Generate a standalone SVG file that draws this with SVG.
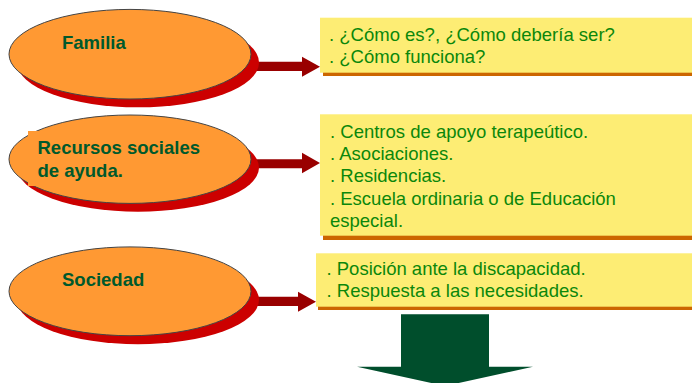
<svg xmlns="http://www.w3.org/2000/svg" width="692" height="383" viewBox="0 0 692 383">
<style>
.shadow{fill:#CC0000}
.ell{fill:#FF9933;stroke:#444;stroke-width:1}
.lbl{font-family:"Liberation Sans",Arial,sans-serif;font-size:18.5px;font-weight:bold;fill:#00592C}
.boxsh{fill:#CC6600}
.box{fill:#FDED74}
.txt{font-family:"Liberation Sans",Arial,sans-serif;font-size:18.5px;fill:#0B870B}
.arr{fill:#990000}
</style>
<rect width="692" height="383" fill="#ffffff"/>
<g id="connectors">
<polygon class="arr" points="250,61.7 302,61.7 302,56.7 320,66.7 302,76.7 302,71 250,71"/>
<polygon class="arr" points="250,159.3 302,159.3 302,152.7 320,163 302,173.3 302,168.3 250,168.3"/>
<polygon class="arr" points="250,296.7 298,296.7 298,291.7 316,301.7 298,311.7 298,306 250,306"/>
<polygon fill="#004E2C" points="401,314.3 489,314.3 489,366.7 533,366.7 445,386 357,366.7 401,366.7"/>
</g>
<g id="familia">
<ellipse class="shadow" cx="138" cy="62.5" rx="121" ry="44.8"/>
<ellipse class="ell" cx="130" cy="54.2" rx="121" ry="44.8"/>
<text class="lbl" x="62" y="49">Familia</text>
</g>
<g id="recursos">
<ellipse class="shadow" cx="138" cy="167.5" rx="121" ry="44.2"/>
<ellipse class="ell" cx="130" cy="159.2" rx="121" ry="44.2"/>
<rect x="28" y="131" width="180" height="55" fill="#FF9933"/>
<text class="lbl" x="37.5" y="154">Recursos sociales</text>
<text class="lbl" x="37.5" y="176.5">de ayuda.</text>
</g>
<g id="sociedad">
<ellipse class="shadow" cx="138" cy="299.8" rx="121" ry="44.4"/>
<ellipse class="ell" cx="130" cy="291.3" rx="121" ry="44.4"/>
<text class="lbl" x="62" y="286">Sociedad</text>
</g>
<g id="box1">
<rect class="boxsh" x="323" y="21" width="372" height="55"/>
<rect class="box" x="320" y="17.7" width="372" height="55"/>
<text class="txt" x="329" y="41">. ¿Cómo es?, ¿Cómo debería ser?</text>
<text class="txt" x="329" y="63">. ¿Cómo funciona?</text>
</g>
<g id="box2">
<rect class="boxsh" x="323" y="118" width="372" height="122"/>
<rect class="box" x="320" y="114.3" width="372" height="121.4"/>
<text class="txt" x="330" y="138">. Centros de apoyo terapeútico.</text>
<text class="txt" x="330" y="160">. Asociaciones.</text>
<text class="txt" x="330" y="182">. Residencias.</text>
<text class="txt" x="330" y="204.5">. Escuela ordinaria o de Educación</text>
<text class="txt" x="330" y="226.5">especial.</text>
</g>
<g id="box3">
<rect class="boxsh" x="318" y="257" width="374" height="53"/>
<rect class="box" x="316" y="253.3" width="376" height="53.4"/>
<text class="txt" x="326.5" y="275">. Posición ante la discapacidad.</text>
<text class="txt" x="326.5" y="297">. Respuesta a las necesidades.</text>
</g>
</svg>
